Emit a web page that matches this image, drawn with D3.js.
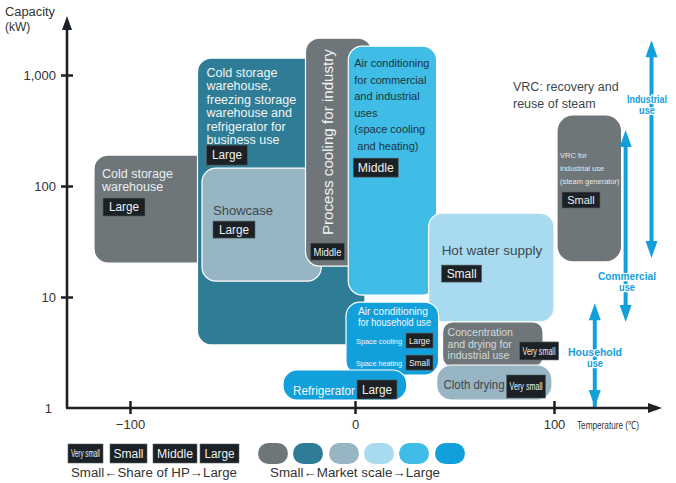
<!DOCTYPE html>
<html><head><meta charset="utf-8">
<script src="https://cdn.jsdelivr.net/npm/d3@7"></script>
<style>
html,body{margin:0;padding:0;background:#fff;}
svg text{font-family:"Liberation Sans",Arial,sans-serif;}
</style></head>
<body>
<svg id="c" width="676" height="483"></svg>
<script>
// ---------------- data ----------------
const boxNames = ["coldWarehouse","coldBusiness","showcase","processCooling","acCommercial","hotWater","acHousehold","refrigerator","concentration","clothDrying","vrc"];
const tempLow  = [-116, -70, -68, -22, -3, 37, -4, -32, 44, 41, 101.5];
const tempHigh = [ -60,   5, -15, 8.5, 41, 100, 42, 26, 94.5, 99, 134];
const capLow   = [20.2, 3.7, 13.9, 19, 10.4, 5.96, 1.98, 1.18, 2.34, 1.18, 20.7];
const capHigh  = [190, 1420, 145, 2150, 1820, 57, 9.0, 2.2, 5.96, 2.44, 436];
const marketScale = [0, 1, 2, 0, 4, 3, 5, 5, 0, 2, 0];   // index into market colours
const boxLabels = [
  ["Cold storage","warehouse"],
  ["Cold storage","warehouse,","freezing storage","warehouse and","refrigerator for","business use"],
  ["Showcase"],
  ["Process cooling for industry"],
  ["Air conditioning","for commercial","and industrial","uses","(space cooling"," and heating)"],
  ["Hot water supply"],
  ["Air conditioning","for household use"],
  ["Refrigerator"],
  ["Concentration","and drying for","industrial use"],
  ["Cloth drying"],
  ["VRC for","industrial use","(steam generator)"]
];
const boxShare = ["Large","Large","Large","Middle","Middle","Small",null,"Large","Very small","Very small","Small"];
const householdRows = ["Space cooling","Space heating"];
const householdShare = ["Large","Small"];

const yTicks = [1, 10, 100, 1000];
const xTicks = [-100, 0, 100];
const shareLevels = ["Very small","Small","Middle","Large"];
const marketLevels = [0,1,2,3,4,5];

const arrowNames = [["Industrial","use"],["Commercial","use"],["Household","use"]];
const arrowTemp = [149, 136, 120.5];
const arrowCapHigh = [2060, 320, 8.8];
const arrowCapLow = [22.5, 5.96, 1];

// ---------------- styles ----------------
const marketColors = ["#6f7679","#2e7c95","#98b5c3","#a9dbf0","#40bde6","#12a0dc"];
const textColor = ["#e9eef0","#f2f6f7","#3b474d","#f0f3f4","#1c3442","#3b474d","#f4f8fb","#f4f8fb","#d4d9db","#3b474d","#e6eaeb"];

const svg = d3.select("#c");
const x = d3.scaleLinear().domain([-100, 0, 100]).range([130, 355, 554]);
const y = d3.scaleLog().domain([1, 1000]).range([408, 75]);

// ---------------- boxes ----------------
const radii = [14,14,14,14,14,14,14,14,10,15,16];
const gBoxes = svg.append("g");
boxNames.forEach((n,i)=>{
  const x0 = x(tempLow[i]), x1 = x(tempHigh[i]);
  const y0 = y(capHigh[i]), y1 = y(capLow[i]);
  gBoxes.append("rect").attr("x",x0).attr("y",y0).attr("width",x1-x0).attr("height",y1-y0)
    .attr("rx",radii[i]).attr("ry",radii[i])
    .attr("fill",marketColors[marketScale[i]]).attr("stroke","#ffffff").attr("stroke-width",1.2);
});

function badge(g, bx, by, w, h, label, fs){
  g.append("rect").attr("x",bx).attr("y",by).attr("width",w).attr("height",h)
    .attr("fill","#1b2124").attr("stroke","#5b6266").attr("stroke-width",0.6);
  const t = g.append("text").attr("x",bx+w/2).attr("y",by+h/2+fs*0.36).attr("text-anchor","middle")
    .attr("font-size",fs).attr("fill","#eef1f2").text(label);
  const tl = Math.min(w-6, label.length*fs*0.5);
  t.attr("textLength",tl).attr("lengthAdjust","spacingAndGlyphs");
}

// label layouts relative to box top-left (px)
const layout = [
  {dx:8, dy:23, lh:13, fs:12.5, bdx:9, bdy:43, bw:42, bh:18, bfs:12},
  {dx:9, dy:19, lh:13.4, fs:12.5, bdx:9, bdy:87, bw:41, bh:20, bfs:12},
  {dx:11, dy:47, lh:13, fs:13, bdx:11, bdy:53, bw:42, bh:17, bfs:12},
  null,
  {dx:6, dy:21, lh:16.5, fs:11, bdx:5, bdy:112, bw:45, bh:19, bfs:12},
  {dx:13, dy:42, lh:13, fs:13.5, bdx:13, bdy:52, bw:40, bh:17, bfs:12},
  null,
  {dx:10, dy:25, lh:13, fs:13, tl:62, bdx:74, bdy:10, bw:40, bh:19, bfs:12},
  {dx:5, dy:14, lh:11.6, fs:10.5, bdx:77, bdy:20, bw:39, bh:18, bfs:10},
  {dx:7, dy:24, lh:13, fs:12.5, tl:61, bdx:70, bdy:10, bw:39, bh:23, bfs:10},
  {dx:3, dy:43, lh:13, fs:7.5, bdx:5, bdy:77, bw:38, bh:16, bfs:11}
];
const gText = svg.append("g");
boxNames.forEach((n,i)=>{
  const L = layout[i];
  const x0 = x(tempLow[i]), y0 = y(capHigh[i]);
  if(L){
    boxLabels[i].forEach((line,j)=>{
      const t = gText.append("text").attr("x",x0+L.dx).attr("y",y0+L.dy+j*L.lh)
        .attr("font-size",L.fs).attr("fill",textColor[i]).attr("xml:space","preserve").text(line);
      if(L.tl) t.attr("textLength",L.tl).attr("lengthAdjust","spacingAndGlyphs");
    });
    if(boxShare[i]) badge(gText, x0+L.bdx, y0+L.bdy, L.bw, L.bh, boxShare[i], L.bfs);
  }
});
// process cooling (rotated)
{
  const i = 3, x0 = x(tempLow[i]), y0 = y(capHigh[i]);
  gText.append("text").attr("transform",`translate(${x0+27},${y0+197}) rotate(-90)`)
    .attr("font-size",14).attr("fill",textColor[i]).attr("textLength",186).attr("lengthAdjust","spacingAndGlyphs")
    .text(boxLabels[i][0]);
  badge(gText, x0+5, y0+205, 34, 17, boxShare[i], 11);
}
// household AC
{
  const i = 6, x0 = x(tempLow[i]), y0 = y(capHigh[i]);
  boxLabels[i].forEach((line,j)=>{
    gText.append("text").attr("x",x0+12).attr("y",y0+13+j*11).attr("font-size",10).attr("fill",textColor[i])
      .attr("textLength", j===0?70:73).attr("lengthAdjust","spacingAndGlyphs").text(line);
  });
  householdRows.forEach((r,j)=>{
    gText.append("text").attr("x",x0+10).attr("y",y0+42+j*22).attr("font-size",8).attr("fill",textColor[i])
      .attr("textLength",46).attr("lengthAdjust","spacingAndGlyphs").text(r);
    badge(gText, x0+60, y0+31+j*22, 27, 15, householdShare[j], 9);
  });
}
// VRC heading
svg.append("text").attr("x",513).attr("y",91).attr("font-size",12.5).attr("fill","#3b474d").text("VRC: recovery and");
svg.append("text").attr("x",513).attr("y",108).attr("font-size",12.5).attr("fill","#3b474d").text("reuse of steam");

// ---------------- arrows ----------------
const gArr = svg.append("g");
const aCol = "#12a0dc";
arrowNames.forEach((nm,i)=>{
  const ax = x(arrowTemp[i]), yt = y(arrowCapHigh[i]), yb = y(arrowCapLow[i]);
  gArr.append("line").attr("x1",ax).attr("x2",ax).attr("y1",yt+10).attr("y2",yb-(i===2?0:10))
    .attr("stroke",aCol).attr("stroke-width",4);
  gArr.append("path").attr("d",`M${ax},${yt} L${ax-6},${yt+17} L${ax+6},${yt+17} Z`).attr("fill",aCol);
  const be = i===2 ? yb-1 : yb;
  gArr.append("path").attr("d",`M${ax},${be} L${ax-6},${be-17} L${ax+6},${be-17} Z`).attr("fill",aCol);
});
const labPos = [[647,103],[627,280],[595,356]];
const labW = [[40,16],[58,16],[54,16]];
arrowNames.forEach((nm,i)=>{
  nm.forEach((s,j)=>{
    gArr.append("text").attr("x",labPos[i][0]).attr("y",labPos[i][1]+j*11).attr("text-anchor","middle")
      .attr("font-size",10.5).attr("font-weight","bold").attr("fill",aCol)
      .attr("stroke","#ffffff").attr("stroke-width",2.6).attr("paint-order","stroke").attr("stroke-linejoin","round")
      .attr("textLength",labW[i][j]).attr("lengthAdjust","spacingAndGlyphs").text(s);
  });
});

// ---------------- axes ----------------
const axCol = "#1b2124";
const gy = svg.append("g").attr("transform","translate(67,0)")
  .call(d3.axisLeft(y).tickValues(yTicks).tickFormat(d3.format(",")).tickSize(0).tickPadding(11));
gy.select(".domain").remove();
gy.selectAll(".tick line").attr("x1",-6).attr("x2",6).attr("stroke",axCol).attr("stroke-width",2.5);
gy.selectAll(".tick text").attr("font-size",13).attr("fill","#333").attr("font-family","Liberation Sans, Arial, sans-serif")
  .attr("dy","0.35em");
gy.selectAll(".tick").filter(d=>d===1).select("text").attr("dx",-4);
gy.selectAll(".tick").filter(d=>d===1).select("line").remove();

const gx = svg.append("g").attr("transform","translate(0,408)")
  .call(d3.axisBottom(x).tickValues(xTicks).tickSize(0).tickPadding(12));
gx.select(".domain").remove();
gx.selectAll(".tick line").attr("y1",-7).attr("y2",6).attr("stroke",axCol).attr("stroke-width",2.5);
gx.selectAll(".tick text").attr("font-size",13).attr("fill","#333").attr("font-family","Liberation Sans, Arial, sans-serif");

svg.append("line").attr("x1",67).attr("x2",67).attr("y1",408).attr("y2",26).attr("stroke",axCol).attr("stroke-width",2.6);
svg.append("path").attr("d","M67,16 L62,30 L72,30 Z").attr("fill",axCol);
svg.append("line").attr("x1",66).attr("x2",652).attr("y1",408).attr("y2",408).attr("stroke",axCol).attr("stroke-width",2.6);
svg.append("path").attr("d","M662,408 L648,403 L648,413 Z").attr("fill",axCol);

svg.append("text").attr("x",5).attr("y",16).attr("font-size",12).attr("fill","#333")
  .attr("textLength",50).attr("lengthAdjust","spacingAndGlyphs").text("Capacity");
svg.append("text").attr("x",5).attr("y",31).attr("font-size",12).attr("fill","#333").text("(kW)");
svg.append("text").attr("x",577).attr("y",429).attr("font-size",11).attr("fill","#333")
  .attr("textLength",62).attr("lengthAdjust","spacingAndGlyphs").text("Temperature (℃)");

// ---------------- legend ----------------
const shareX = [68,110,153,200], shareW = [35,37,44,39];
shareLevels.forEach((s,i)=>{
  badge(svg, shareX[i], 444, shareW[i], 19, s, s==="Very small"?10:12);
});
svg.append("text").attr("x",71).attr("y",477).attr("font-size",12.5).attr("fill","#333")
  .attr("textLength",166).attr("lengthAdjust","spacingAndGlyphs").text("Small←Share of HP→Large");
const pillX = [258,293,329,364,399,435];
marketLevels.forEach((m,i)=>{
  svg.append("rect").attr("x",pillX[i]).attr("y",443).attr("width",30).attr("height",21)
    .attr("rx",10.5).attr("ry",10.5).attr("fill",marketColors[m]);
});
svg.append("text").attr("x",270).attr("y",477).attr("font-size",12.5).attr("fill","#333")
  .attr("textLength",170).attr("lengthAdjust","spacingAndGlyphs").text("Small←Market scale→Large");
</script>
</body></html>
